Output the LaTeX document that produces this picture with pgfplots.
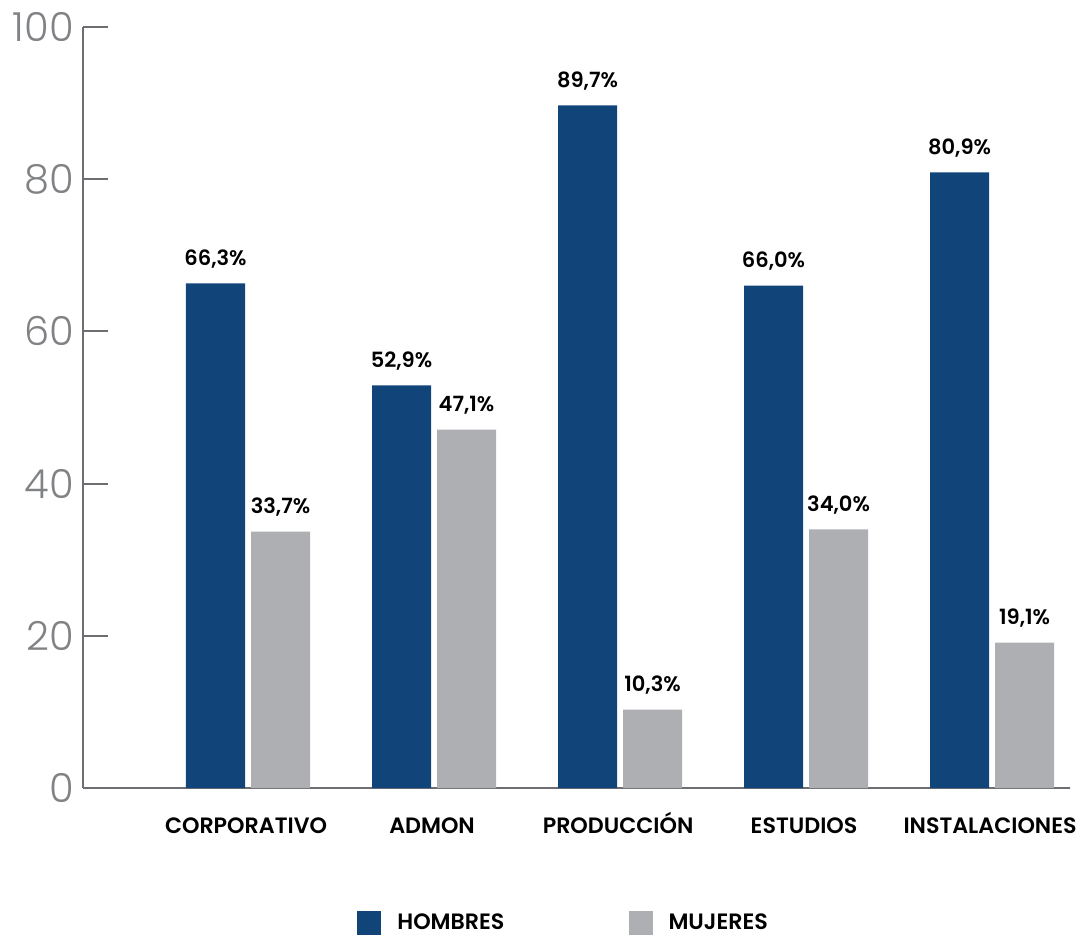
\documentclass[border=0pt]{standalone}
\usepackage{fontspec}
\setmainfont{Poppins}[BoldFont={* SemiBold}]
\newfontfamily\poplight{Poppins Light}
\usepackage{pgfplots}
\pgfplotsset{compat=1.18}
\definecolor{hblue}{HTML}{11457A}
\definecolor{mgray}{HTML}{AEAFB3}
\definecolor{axgray}{HTML}{6D6E71}
\definecolor{tickgray}{HTML}{808285}
\begin{document}
\begin{tikzpicture}[x=1pt,y=1pt]
\useasboundingbox (-41.5,-75.5) rectangle (501,394);
\begin{axis}[
  at={(0,0)}, anchor=south west,
  scale only axis, width=493.5pt, height=380.5pt,
  xmin=-0.887, xmax=4.419, ymin=0, ymax=100,
  ybar=3pt, bar width=29.5pt,
  axis x line*=bottom, axis y line*=left,
  axis line style={axgray, line width=1pt, -},
  xtick={0,1,2,3,4},
  xticklabels={CORPORATIVO,ADMON,PRODUCCIÓN,ESTUDIOS,INSTALACIONES},
  x tick style={draw=none},
  ytick={0,20,...,100},
  tick align=inside, major tick length=12.5pt,
  y tick style={axgray, line width=1pt},
  /pgf/number format/assume math mode=true,
  yticklabel style={font=\poplight\fontsize{20}{20}\selectfont, text=tickgray, xshift=-1pt},
  xticklabel style={font=\bfseries\fontsize{11.1}{12}\selectfont, text height=8pt, text depth=2pt, yshift=-11pt, xshift=-1pt},
  nodes near coords={\pgfmathprintnumber[fixed,fixed zerofill,precision=1,use comma]{\pgfplotspointmeta}\%},
  every node near coord/.append style={font=\bfseries\fontsize{10.5}{12}\selectfont, text=black, yshift=4pt},
  legend columns=2,
  legend style={at={(axis description cs:0.488,-0.178)}, anchor=center, draw=none,
    font=\bfseries\fontsize{11.1}{12}\selectfont,
    /tikz/every even column/.append style={column sep=60pt},
    /tikz/every odd column/.append style={column sep=6pt}},
  legend image code/.code={\fill[#1] (0pt,-6pt) rectangle (12pt,6pt);},
]
\addplot[fill=hblue, draw=none] coordinates {(0,66.3) (1,52.9) (2,89.7) (3,66.0) (4,80.9)};
\addplot[fill=mgray, draw=none] coordinates {(0,33.7) (1,47.1) (2,10.3) (3,34.0) (4,19.1)};
\legend{HOMBRES,MUJERES}
\draw[axgray, line width=1pt] (rel axis cs:1,0) -- ++(0,9pt);
\end{axis}
\end{tikzpicture}
\end{document}
